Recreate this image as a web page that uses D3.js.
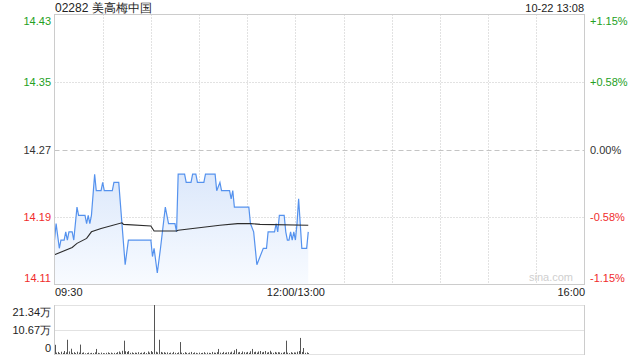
<!DOCTYPE html>
<html>
<head>
<meta charset="utf-8">
<script src="https://cdn.jsdelivr.net/npm/d3@7"></script>
<style>
body { margin: 0; background: #fff; }
text { font-family: "Liberation Sans", Arial, sans-serif; }
</style>
</head>
<body>
<script>
// chart data
var title = '02282 美高梅中国';
var stamp = '10-22 13:08';
var prevClose = 14.27;
var priceTicks = [14.434, 14.352, 14.27, 14.188, 14.106];
var priceLabels = ['14.43', '14.35', '14.27', '14.19', '14.11'];
var pctLabels = ['+1.15%', '+0.58%', '0.00%', '-0.58%', '-1.15%'];
var timeTicks = ['09:30', '13:00', '16:00'];
var timeLabels = ['09:30', '12:00/13:00', '16:00'];

var priceTimes = ['09:30','09:31','09:33','09:34','09:36','09:37','09:38','09:39','09:41','09:42',
                  '09:44','09:45','09:49','09:50','09:51','09:52','09:53','09:55','09:56','09:59',
                  '10:00','10:01','10:06','10:07','10:10','10:12','10:14','10:16','10:30','10:31',
                  '10:32','10:34','10:36','10:39','10:40','10:41','10:45','10:46','10:47','10:51',
                  '10:52','10:55','10:56','10:58','10:59','11:03','11:04','11:10','11:11','11:13',
                  '11:14','11:19','11:20','11:21','11:22','11:31','11:32','11:34','11:36','11:38',
                  '11:40','11:42','11:43','11:47','11:48','11:49','11:50','11:53','11:54','11:55',
                  '11:56','11:57','11:58','11:59','13:00','13:01','13:02','13:04','13:07','13:08'];
var prices = [14.16,14.18,14.15,14.16,14.16,14.17,14.16,14.17,14.17,14.16,
              14.20,14.19,14.19,14.18,14.19,14.18,14.19,14.24,14.22,14.22,
              14.23,14.22,14.22,14.23,14.23,14.18,14.13,14.16,14.16,14.14,
              14.15,14.12,14.15,14.20,14.19,14.18,14.18,14.17,14.24,14.24,
              14.23,14.23,14.24,14.24,14.23,14.23,14.24,14.24,14.22,14.23,
              14.22,14.22,14.21,14.22,14.20,14.20,14.18,14.17,14.13,14.14,
              14.15,14.15,14.17,14.17,14.18,14.17,14.19,14.19,14.17,14.16,
              14.16,14.17,14.16,14.17,14.16,14.18,14.21,14.15,14.15,14.17];

var avgTimes = ['09:30','09:41','09:44','09:50','09:53','09:59','10:12','10:13','10:30','10:32',
                '10:46','10:47','11:13','11:24','11:32','11:38','13:08'];
var avgPrices = [14.142,14.151,14.156,14.162,14.170,14.174,14.181,14.179,14.177,14.171,
                 14.171,14.172,14.178,14.180,14.180,14.179,14.178];

// volume per minute from 09:30, in 万股
var volumes = [4.0,0.6,0.9,0.4,1.0,0.5,1.3,0.7,6.2,1.1,
               2.3,0.5,0.8,0.4,1.0,0.6,4.1,0.5,0.7,0.3,
               0.4,0.6,0.3,0.5,0.4,0.7,2.2,0.5,0.3,0.6,
               0.4,0.3,0.5,0.7,0.4,0.6,0.3,0.5,0.4,0.8,
               1.1,0.6,1.4,5.8,1.2,0.9,1.3,0.5,0.7,0.4,
               0.6,0.5,0.8,0.4,0.6,0.5,0.9,0.4,1.1,0.6,
               1.3,0.8,21.34,1.0,0.7,6.2,0.9,0.6,0.8,0.5,
               0.7,0.4,0.6,0.3,0.9,0.5,0.4,0.7,5.2,0.6,
               0.4,0.8,0.5,0.3,0.6,0.9,0.4,0.7,0.5,0.3,
               0.6,0.4,0.5,0.8,0.3,0.6,0.5,0.4,0.9,0.6,
               0.5,0.8,2.2,0.6,0.4,0.9,0.5,0.7,0.8,0.6,
               1.0,0.5,1.6,2.2,0.7,0.9,0.4,1.1,0.8,0.6,
               0.9,0.5,1.2,2.2,0.8,1.0,0.6,1.1,1.3,0.7,
               0.9,1.3,0.6,0.8,1.4,0.7,0.5,0.9,0.6,0.8,
               0.7,0.5,0.6,0.9,5.8,0.6,0.4,0.8,0.5,0.7,
               0.6,1.0,1.3,7.0,0.9,2.6,0.5,0.7,0.4];
var volTicks = [21.34, 10.67, 0];
var volLabels = ['21.34万', '10.67万', '0'];

var green = '#23a023', red = '#f02c2c', grid = '#c4c4c4';

// minutes since open; lunch break folded out
function toIdx(t) {
    var p = t.split(':'), m = +p[0] * 60 + +p[1];
    return m >= 780 ? m - 780 + 150 : m - 570;
}
function labelColor(v) {
    return Math.abs(v - prevClose) < 1e-6 ? '#333' : (v > prevClose ? green : red);
}

var svg = d3.select('body').append('svg')
                .attr('width', 640)
                .attr('height', 360);

var x = d3.scaleLinear().domain([0, 330]).range([54.5, 584.5]);
var y = d3.scaleLinear().domain([14.106, 14.434]).range([284.5, 14.5]);
var yv = d3.scaleLinear().domain([0, 21.34]).range([354, 305]);

// gradient under the price line
var defs = svg.append('defs');
var grad = defs.append('linearGradient').attr('id', 'fill')
                .attr('x1', 0).attr('y1', 0).attr('x2', 0).attr('y2', 1);
grad.append('stop').attr('offset', '0%').attr('stop-color', '#dce8fb');
grad.append('stop').attr('offset', '100%').attr('stop-color', '#f8fbff');

// grid of the price panel
svg.selectAll('.vgrid')
    .data(d3.range(30, 330, 30))
    .enter().append('line')
    .attr('x1', function(d){ return Math.round(x(d)) + 0.5; })
    .attr('x2', function(d){ return Math.round(x(d)) + 0.5; })
    .attr('y1', 14.5).attr('y2', 284.5)
    .attr('stroke', grid).attr('stroke-dasharray', '1,2');

svg.selectAll('.hgrid')
    .data(priceTicks.slice(1, 4))
    .enter().append('line')
    .attr('x1', 54.5).attr('x2', 584.5)
    .attr('y1', function(d){ return Math.round(y(d)) + 0.5; })
    .attr('y2', function(d){ return Math.round(y(d)) + 0.5; })
    .attr('stroke', function(d){ return d === prevClose ? '#c4c4c4' : grid; })
    .attr('stroke-dasharray', function(d){ return d === prevClose ? '5,3' : '1,2'; });

svg.append('text')
    .attr('x', 573).attr('y', 281)
    .attr('text-anchor', 'end')
    .attr('font-size', 11).attr('fill', '#cfcfcf')
    .text('sina.com');

var pts = priceTimes.map(function(t, i){ return [toIdx(t), prices[i]]; });

svg.append('path')
    .datum(pts)
    .attr('fill', 'url(#fill)')
    .attr('d', d3.area()
        .x(function(d){ return x(d[0]); })
        .y0(284)
        .y1(function(d){ return y(d[1]); }));

svg.append('path')
    .datum(pts)
    .attr('fill', 'none')
    .attr('stroke', '#5592ee')
    .attr('stroke-width', 1.2)
    .attr('d', d3.line()
        .x(function(d){ return x(d[0]); })
        .y(function(d){ return y(d[1]); }));

svg.append('path')
    .datum(avgTimes.map(function(t, i){ return [toIdx(t), avgPrices[i]]; }))
    .attr('fill', 'none')
    .attr('stroke', '#2b2b2b')
    .attr('stroke-width', 1.1)
    .attr('d', d3.line()
        .x(function(d){ return x(d[0]); })
        .y(function(d){ return y(d[1]); }));

// frame
svg.append('rect')
    .attr('x', 54.5).attr('y', 14.5)
    .attr('width', 530).attr('height', 270)
    .attr('fill', 'none').attr('stroke', '#cccccc');

// price axis labels (left) and percent labels (right)
function shiftEnds(sel, n) {
    sel.selectAll('.tick text')
        .attr('dy', function(d, i){ return i === 0 ? '0.95em' : (i === n - 1 ? '-0.25em' : '0.32em'); });
}
var left = svg.append('g')
    .attr('transform', 'translate(51,0)')
    .call(d3.axisLeft(y).tickValues(priceTicks).tickSize(0).tickPadding(0)
        .tickFormat(function(d, i){ return priceLabels[i]; }));
left.select('.domain').remove();
left.selectAll('.tick text')
    .attr('font-size', 11)
    .attr('font-family', '"Liberation Sans", Arial, sans-serif')
    .attr('fill', function(d){ return labelColor(d); });
shiftEnds(left, priceTicks.length);

var right = svg.append('g')
    .attr('transform', 'translate(590,0)')
    .call(d3.axisRight(y).tickValues(priceTicks).tickSize(0).tickPadding(0)
        .tickFormat(function(d, i){ return pctLabels[i]; }));
right.select('.domain').remove();
right.selectAll('.tick text')
    .attr('font-size', 11)
    .attr('font-family', '"Liberation Sans", Arial, sans-serif')
    .attr('fill', function(d){ return labelColor(d); });
shiftEnds(right, priceTicks.length);

// time labels
var tIdx = timeTicks.map(toIdx);
var bottom = svg.append('g')
    .attr('transform', 'translate(0,286)')
    .call(d3.axisBottom(x).tickValues(tIdx).tickSize(0).tickPadding(0)
        .tickFormat(function(d, i){ return timeLabels[i]; }));
bottom.select('.domain').remove();
bottom.selectAll('.tick text')
    .attr('font-size', 11)
    .attr('font-family', '"Liberation Sans", Arial, sans-serif')
    .attr('fill', '#222')
    .attr('dy', '0.9em')
    .attr('text-anchor', function(d, i){ return i === 0 ? 'start' : (i === tIdx.length - 1 ? 'end' : 'middle'); });

// title and timestamp
svg.append('text')
    .attr('x', 55).attr('y', 11.5)
    .attr('font-size', 12).attr('fill', '#222')
    .text(title);
svg.append('text')
    .attr('x', 584).attr('y', 11.5)
    .attr('text-anchor', 'end')
    .attr('font-size', 11).attr('fill', '#222')
    .text(stamp);

// volume panel
svg.selectAll('.vline')
    .data(volTicks)
    .enter().append('line')
    .attr('x1', 54.5).attr('x2', 584.5)
    .attr('y1', function(d){ return Math.round(yv(d)) + 0.5; })
    .attr('y2', function(d){ return Math.round(yv(d)) + 0.5; })
    .attr('stroke', grid).attr('stroke-dasharray', '1,1');
svg.append('line')
    .attr('x1', 54.5).attr('x2', 54.5).attr('y1', 305).attr('y2', 355)
    .attr('stroke', '#cccccc');
svg.append('line')
    .attr('x1', 584.5).attr('x2', 584.5).attr('y1', 305).attr('y2', 355)
    .attr('stroke', '#cccccc');

svg.selectAll('.vol')
    .data(volumes)
    .enter().append('line')
    .attr('x1', function(d, i){ return Math.round(x(i)) + 0.5; })
    .attr('x2', function(d, i){ return Math.round(x(i)) + 0.5; })
    .attr('y1', yv(0))
    .attr('y2', function(d){ return yv(d); })
    .attr('stroke', '#555')
    .attr('stroke-width', 1);

var vleft = svg.append('g')
    .attr('transform', 'translate(51,0)')
    .call(d3.axisLeft(yv).tickValues(volTicks).tickSize(0).tickPadding(0)
        .tickFormat(function(d, i){ return volLabels[i]; }));
vleft.select('.domain').remove();
vleft.selectAll('.tick text')
    .attr('font-size', 11)
    .attr('font-family', '"Liberation Sans", Arial, sans-serif')
    .attr('fill', '#222');
shiftEnds(vleft, volTicks.length);
</script>
</body>
</html>
